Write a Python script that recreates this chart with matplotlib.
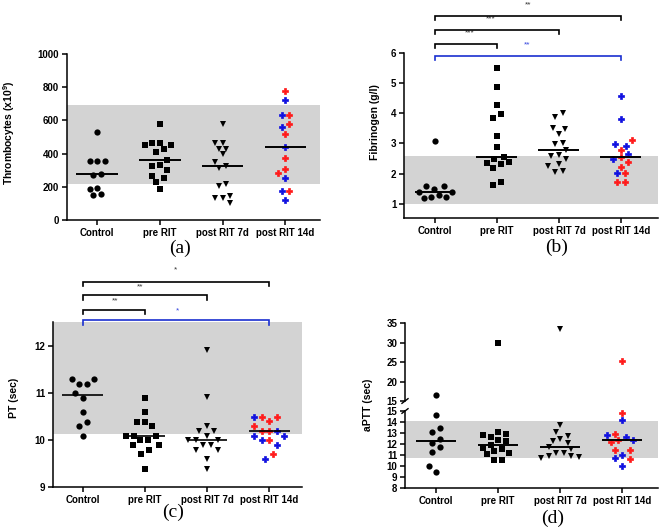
import numpy as np
import matplotlib
matplotlib.use('Agg')
import matplotlib.pyplot as plt

plt.rcParams['font.family'] = ['Liberation Sans', 'DejaVu Sans']
plt.rcParams['font.weight'] = 'bold'
plt.rcParams['mathtext.fontset'] = 'custom'
plt.rcParams['mathtext.rm'] = 'Liberation Sans'
plt.rcParams['mathtext.bf'] = 'Liberation Sans:bold'

groups = ["Control", "pre RIT", "post RIT 7d", "post RIT 14d"]

# (a) Thrombocytes
thr_control = [530, 356, 356, 356, 280, 270, 186, 194, 148, 156]
thr_pre = [580, 450, 466, 466, 450, 430, 410, 360, 334, 326, 304, 266, 254, 230, 186]
thr_7d = [580, 466, 466, 430, 430, 396, 350, 316, 326, 214, 204, 132, 104, 130, 146]
thr_14d_red = [776, 634, 580, 520, 374, 310, 286, 172]
thr_14d_blue = [720, 634, 560, 440, 254, 172, 120]
thr_normal = (215, 690)

# (b) Fibrinogen
fib_control = [3.09, 1.58, 1.50, 1.58, 1.40, 1.40, 1.24, 1.18, 1.22, 1.30]
fib_pre = [5.51, 4.88, 4.27, 3.99, 3.86, 3.24, 2.88, 2.56, 2.50, 2.38, 2.32, 2.36, 2.18, 1.62, 1.73]
fib_7d = [4.02, 3.88, 3.52, 3.47, 3.30, 3.02, 2.97, 2.77, 2.60, 2.63, 2.50, 2.32, 2.24, 2.06, 2.10]
fib_14d_red = [3.11, 2.77, 2.54, 2.40, 2.22, 2.02, 1.74, 1.74]
fib_14d_blue = [4.58, 3.82, 2.93, 2.99, 2.64, 2.49, 2.02]
fib_normal = (1.0, 2.6)

# (c) PT
pt_control = [11.30, 11.30, 11.19, 11.19, 11.0, 10.89, 10.59, 10.38, 10.29, 10.09]
pt_pre = [10.89, 10.59, 10.38, 10.38, 10.29, 10.09, 10.09, 10.09, 9.99, 9.99, 9.89, 9.89, 9.79, 9.69, 9.38]
pt_7d = [11.91, 10.9, 10.3, 10.19, 10.19, 10.09, 10.0, 10.0, 10.0, 9.89, 9.89, 9.79, 9.79, 9.59, 9.39]
pt_14d_red = [10.49, 10.49, 10.39, 10.29, 10.19, 10.19, 9.99, 9.69]
pt_14d_blue = [10.49, 10.19, 10.09, 10.09, 9.99, 9.89, 9.59]
pt_normal = (10.13, 12.5)

# (d) aPTT
aptt_control = [16.45, 14.64, 13.41, 13.1, 12.5, 12.05, 11.72, 11.3, 10.0, 9.5]
aptt_pre = [30.0, 12.92, 13.1, 12.62, 12.8, 12.38, 12.26, 11.9, 11.66, 11.51, 11.36, 11.2, 11.1, 10.58, 10.58]
aptt_7d = [33.55, 13.7, 13.1, 12.77, 12.26, 12.5, 12.1, 11.7, 11.57, 11.2, 11.2, 10.94, 10.76, 10.82, 10.94]
aptt_14d_red = [25.3, 14.85, 12.92, 12.38, 12.2, 11.42, 11.48, 10.6]
aptt_14d_blue = [14.2, 12.62, 12.8, 12.32, 11.0, 10.76, 10.0]
aptt_normal = (10.75, 14.1)

# significance brackets: (group_from, group_to, label, colour)
fib_sig = [(0, 3, "**", "black"), (0, 2, "***", "black"), (0, 1, "***", "black"), (0, 3, "**", "blue")]
pt_sig = [(0, 3, "*", "black"), (0, 2, "**", "black"), (0, 1, "**", "black"), (0, 3, "*", "blue")]

W, H = 660, 530
fig = plt.figure(figsize=(W / 100, H / 100), dpi=100)
fig.patch.set_facecolor('white')

RED = '#ff1a1a'
BLUE = '#1010e0'
BAND = '#d3d3d3'


def add_ax(x0, y0, x1, y1):
    return fig.add_axes([x0 / W, 1 - y1 / H, (x1 - x0) / W, (y1 - y0) / H])


def style(ax, xticks=True):
    for s in ['top', 'right']:
        ax.spines[s].set_visible(False)
    for s in ['left', 'bottom']:
        ax.spines[s].set_linewidth(1.1)
    ax.tick_params(direction='out', length=3.5, width=1.1, labelsize=7, pad=2)
    if xticks:
        ax.set_xticks(range(4))
        ax.set_xticklabels(groups, fontsize=7, fontweight='bold')
    for lab in ax.get_yticklabels():
        lab.set_fontweight('bold')


def swarm(vals, ypx_func, pxx, D=7.5, tol=5.0):
    vals = np.asarray(vals, float)
    ypx = ypx_func(vals)
    n = len(vals)
    order = np.argsort(ypx, kind='stable')
    rows = []
    cur = []
    for i in order:
        if cur and ypx[i] - ypx[cur[0]] > tol:
            rows.append(cur)
            cur = []
        cur.append(i)
    if cur:
        rows.append(cur)
    offs = np.zeros(n)
    placed = []
    thr = 0.9 * D
    grid = [0.0] + [s * k * D / 2 for k in range(1, 16) for s in (-1, 1)]

    def ok(x, y, pts, t=thr):
        for (px, py) in pts:
            if np.hypot(x - px, y - py) < t:
                return False
        return True

    for row in rows:
        members = sorted(row, key=lambda i: -ypx[i])
        rowpts = []
        rowidx = []
        for i in members:
            bal = sum(p[0] for p in rowpts)
            if bal >= 0:
                cands = sorted(grid, key=lambda o: (abs(o), o > 0))
            else:
                cands = sorted(grid, key=lambda o: (abs(o), o < 0))
            for o in cands:
                # inside a row keep a full symbol spacing horizontally
                if ok(o, ypx[i], placed) and all(abs(o - p[0]) >= D * 0.99 for p in rowpts):
                    rowpts.append((o, ypx[i]))
                    rowidx.append(i)
                    break
        shift = -np.mean([p[0] for p in rowpts])
        if abs(shift) > 1e-6:
            shifted = [(p[0] + shift, p[1]) for p in rowpts]
            if all(ok(p[0], p[1], placed) for p in shifted):
                rowpts = shifted
        for i, p in zip(rowidx, rowpts):
            offs[i] = p[0]
        placed.extend(rowpts)
    return offs / pxx


MS = {'o': 4.5, 's': 4.2, 'v': 4.8, 'P': 4.3}


def draw_groups(ax, data, markers, ypx_func=None, axes_for=None, med_lw=1.4):
    pxx = ax.transData.transform([[1, 0]])[0, 0] - ax.transData.transform([[0, 0]])[0, 0]
    if ypx_func is None:
        ypx_func = lambda v: ax.transData.transform(np.column_stack([np.zeros(len(v)), v]))[:, 1]
    for gi, (vals, cols) in enumerate(data):
        vals = np.asarray(vals, float)
        offs = swarm(vals, ypx_func, pxx)
        xs = gi + offs
        for v, x, c in zip(vals, xs, cols):
            tgt = ax if axes_for is None else axes_for(v)
            m = markers[gi]
            mew = 0.5 if m == 'P' else 0
            tgt.plot(x, v, marker=m, color=c, ms=MS[m], mec=c, mew=mew, ls='none',
                     clip_on=False, zorder=3)
        med = np.median(vals)
        tgt = ax if axes_for is None else axes_for(med)
        tgt.plot([gi - 0.33, gi + 0.33], [med, med], color='black', lw=med_lw, zorder=4,
                 solid_capstyle='butt')


def combine(red, blue):
    vals = list(red) + list(blue)
    cols = [RED] * len(red) + [BLUE] * len(blue)
    return vals, cols


def blk(v):
    return (v, ['black'] * len(v))


markers = ['o', 's', 'v', 'P']

# ---------------- (a) ----------------
axa = add_ax(67, 54, 320, 220)
axa.set_xlim(-0.48, 3.55)
axa.set_ylim(0, 1000)
axa.set_yticks(range(0, 1001, 200))
axa.axhspan(*thr_normal, color=BAND, zorder=0, lw=0)
style(axa)
draw_groups(axa, [blk(thr_control), blk(thr_pre), blk(thr_7d), combine(thr_14d_red, thr_14d_blue)], markers)
fig.text(9 / W, 1 - 133 / H, r"Thrombocytes (x10$^{\mathbf{9}}$)", rotation=90, ha='center', va='center',
         fontsize=7.5, fontweight='bold')
fig.text(180 / W, 1 - 248 / H, "(a)", family='Liberation Serif', fontweight='normal',
         fontsize=14, ha='center', va='center')

# ---------------- (b) ----------------
axb = add_ax(404, 53, 658, 218)
axb.set_xlim(-0.5, 3.6)
axb.set_ylim(0.53, 6)
axb.set_yticks(range(1, 7))
axb.axhspan(*fib_normal, color=BAND, zorder=0, lw=0)
style(axb)
draw_groups(axb, [blk(fib_control), blk(fib_pre), blk(fib_7d), combine(fib_14d_red, fib_14d_blue)], markers)
fig.text(375 / W, 1 - 122 / H, "Fibrinogen (g/l)", rotation=90, ha='center', va='center',
         fontsize=7.5, fontweight='bold')
fig.text(557 / W, 1 - 247 / H, "(b)", family='Liberation Serif', fontweight='normal',
         fontsize=14, ha='center', va='center')


def brackets(ax, sig, levels_px, text_px, text_x, leg_px=4.5):
    inv = ax.transData.inverted()
    for (g0, g1, lab, col), ly, ty, tx in zip(sig, levels_px, text_px, text_x):
        y = inv.transform((0, H - ly))[1]
        y2 = inv.transform((0, H - ly - leg_px))[1]
        yt = inv.transform((0, H - ty))[1]
        c = 'black' if col == 'black' else '#1a2fd0'
        ax.plot([g0, g0, g1, g1], [y2, y, y, y2], color=c, lw=1.2, clip_on=False, zorder=5,
                solid_joinstyle='miter')
        ax.text(tx, yt, lab, color=('#333333' if col == 'black' else '#3344dd'), fontsize=6,
                fontweight='normal', ha='center', va='center', clip_on=False)


brackets(axb, fib_sig, [15.5, 29.5, 43.5, 55.5], [5, 19, 33, 45], [1.5, 0.9, 0.56, 1.48])

# ---------------- (c) ----------------
axc = add_ax(53, 322, 302, 487)
axc.set_xlim(-0.48, 3.53)
axc.set_ylim(9, 12.5)
axc.set_yticks([9, 10, 11, 12])
axc.axhspan(*pt_normal, color=BAND, zorder=0, lw=0)
style(axc)
draw_groups(axc, [blk(pt_control), blk(pt_pre), blk(pt_7d), combine(pt_14d_red, pt_14d_blue)], markers,
            med_lw=1.2)
fig.text(14 / W, 1 - 398 / H, "PT (sec)", rotation=90, ha='center', va='center',
         fontsize=7.5, fontweight='bold')
fig.text(173 / W, 1 - 512 / H, "(c)", family='Liberation Serif', fontweight='normal',
         fontsize=14, ha='center', va='center')
brackets(axc, pt_sig, [281.5, 295, 309.5, 320], [270, 287, 300.5, 310.5], [1.5, 0.92, 0.52, 1.52])

# ---------------- (d) ----------------
axd = add_ax(405, 411, 658, 488)
axu = add_ax(405, 323, 658, 401)
for a in (axd, axu):
    a.set_xlim(-0.5, 3.58)
axd.set_ylim(8, 15)
axd.set_yticks(range(8, 16))
axu.set_ylim(15, 35)
axu.set_yticks([15, 20, 25, 30, 35])
axd.axhspan(*aptt_normal, color=BAND, zorder=0, lw=0)
style(axd)
style(axu, xticks=False)
axu.spines['bottom'].set_visible(False)
axu.set_xticks([])
axd.spines['top'].set_visible(False)


def ypx_d(v):
    v = np.asarray(v, float)
    lo = axd.transData.transform(np.column_stack([np.zeros(len(v)), np.minimum(v, 15)]))[:, 1]
    up = axu.transData.transform(np.column_stack([np.zeros(len(v)), np.maximum(v, 15)]))[:, 1]
    return np.where(v > 15, up, lo)


draw_groups(axd, [blk(aptt_control), blk(aptt_pre), blk(aptt_7d), combine(aptt_14d_red, aptt_14d_blue)],
            markers, ypx_func=ypx_d, axes_for=lambda v: axu if v > 15 else axd)
# axis break marks
for a, yy in ((axu, 0.0), (axd, 1.0)):
    a.plot([-0.012, 0.012], [yy - 0.03, yy + 0.03], transform=a.transAxes, color='black',
           lw=1.0, clip_on=False)
fig.text(368 / W, 1 - 405 / H, "aPTT (sec)", rotation=90, ha='center', va='center',
         fontsize=7.5, fontweight='bold')
fig.text(553 / W, 1 - 518 / H, "(d)", family='Liberation Serif', fontweight='normal',
         fontsize=14, ha='center', va='center')

fig.savefig('out.png', dpi=100, facecolor='white')
